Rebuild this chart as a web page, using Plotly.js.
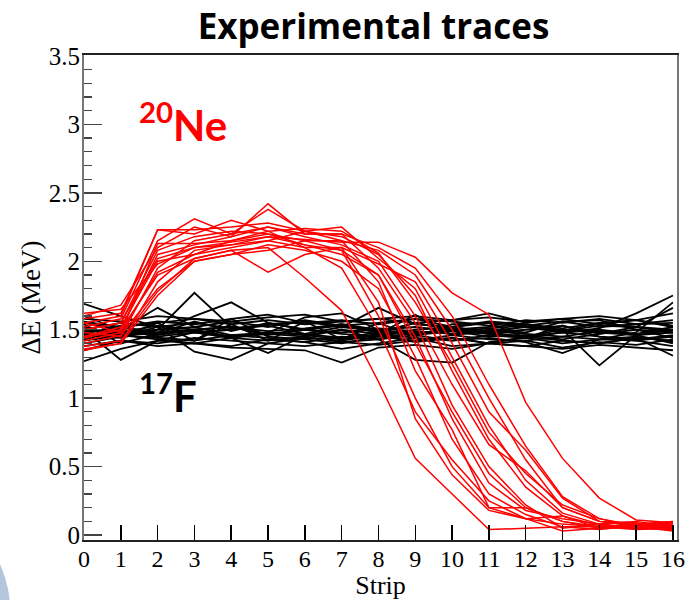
<!DOCTYPE html>
<html>
<head>
<meta charset="utf-8">
<script src="https://cdn.plot.ly/plotly-3.0.1.min.js"></script>
<style>html,body{margin:0;padding:0;background:#fff;}#chart{width:691px;height:600px;}</style>
</head>
<body>
<div id="chart"></div>
<script>
// Strip numbers (x)
const strips = [0,1,2,3,4,5,6,7,8,9,10,11,12,13,14,15,16];

// 20Ne traces (red), ΔE in MeV per strip
const ne20_1  = [1.45,1.50,1.90,2.02,2.08,2.10,1.88,1.64,1.12,0.56,0.30,0.04,0.05,0.06,0.06,0.05,0.07];
const ne20_2  = [1.50,1.55,2.02,2.10,2.12,2.18,2.16,2.14,2.14,2.03,1.77,1.61,0.97,0.56,0.27,0.11,0.09];
const ne20_3  = [1.38,1.42,1.78,2.02,2.08,1.92,2.05,2.10,1.70,0.85,0.44,0.18,0.12,0.08,0.06,0.05,0.04];
const ne20_4  = [1.55,1.60,2.23,2.23,2.25,2.28,2.22,2.15,1.85,1.20,0.77,0.20,0.12,0.03,0.05,0.06,0.05];
const ne20_5  = [1.42,1.48,2.13,2.13,2.15,2.20,2.12,2.05,1.90,1.40,0.90,0.45,0.20,0.10,0.05,0.07,0.10];
const ne20_6  = [1.60,1.68,2.10,2.25,2.18,2.42,2.20,2.20,1.95,1.55,0.95,0.50,0.22,0.05,0.08,0.05,0.06];
const ne20_7  = [1.48,1.45,1.95,2.15,2.20,2.25,2.18,2.12,2.00,1.60,1.10,0.66,0.47,0.20,0.10,0.06,0.08];
const ne20_8  = [1.35,1.40,1.85,2.08,2.12,2.15,2.22,2.18,2.05,1.75,1.20,0.70,0.35,0.14,0.05,0.08,0.04];
const ne20_9  = [1.52,1.58,2.15,2.31,2.20,2.38,2.22,2.25,2.02,1.80,1.30,0.80,0.40,0.16,0.08,0.05,0.07];
const ne20_10 = [1.45,1.52,2.00,2.05,2.10,2.15,2.10,2.10,1.98,1.85,1.40,0.90,0.62,0.27,0.10,0.09,0.06];
const ne20_11 = [1.58,1.62,2.23,2.20,2.30,2.22,2.24,2.22,2.06,1.70,1.25,0.75,0.45,0.22,0.12,0.06,0.05];
const ne20_12 = [1.40,1.46,1.80,2.00,2.05,2.12,2.08,2.00,1.80,1.30,0.70,0.30,0.15,0.06,0.04,0.07,0.08];
const ne20_13 = [1.50,1.55,2.08,2.18,2.22,2.20,2.15,2.15,2.08,1.90,1.50,1.00,0.55,0.20,0.10,0.08,0.10];
const ne20_14 = [1.62,1.65,1.98,2.10,2.14,2.18,2.12,2.08,1.60,1.00,0.50,0.20,0.20,0.10,0.06,0.04,0.05];
const ne20_15 = [1.44,1.50,2.05,2.12,2.18,2.25,2.20,2.20,2.10,1.95,1.60,1.10,0.65,0.28,0.12,0.07,0.09];
const ne20_16 = [1.55,1.48,1.92,2.05,2.15,2.22,2.10,1.95,1.50,0.90,0.55,0.25,0.12,0.14,0.07,0.06,0.03];
const ne20_17 = [1.36,1.40,1.75,2.00,2.05,2.08,2.15,2.08,1.90,1.45,0.85,0.38,0.18,0.12,0.08,0.10,0.06];

// 17F traces (black)
const f17_1  = [1.69,1.60,1.52,1.48,1.50,1.53,1.47,1.52,1.49,1.46,1.52,1.48,1.50,1.53,1.47,1.52,1.50];
const f17_2  = [1.27,1.36,1.42,1.40,1.38,1.43,1.41,1.36,1.40,1.44,1.38,1.40,1.42,1.37,1.41,1.39,1.43];
const f17_3  = [1.50,1.28,1.42,1.48,1.44,1.47,1.45,1.50,1.43,1.48,1.49,1.45,1.46,1.43,1.47,1.50,1.44];
const f17_4  = [1.55,1.50,1.66,1.52,1.56,1.52,1.57,1.53,1.55,1.58,1.52,1.56,1.54,1.51,1.55,1.57,1.52];
const f17_5  = [1.45,1.48,1.50,1.77,1.52,1.46,1.50,1.47,1.45,1.50,1.52,1.48,1.45,1.50,1.48,1.46,1.50];
const f17_6  = [1.52,1.46,1.48,1.60,1.70,1.55,1.50,1.53,1.48,1.55,1.50,1.52,1.54,1.49,1.53,1.52,1.48];
const f17_7  = [1.40,1.45,1.52,1.34,1.28,1.40,1.44,1.42,1.46,1.41,1.44,1.40,1.45,1.42,1.40,1.44,1.42];
const f17_8  = [1.48,1.52,1.56,1.54,1.58,1.61,1.55,1.57,1.54,1.58,1.56,1.53,1.57,1.55,1.58,1.54,1.57];
const f17_9  = [1.60,1.50,1.45,1.48,1.44,1.33,1.46,1.43,1.47,1.44,1.42,1.46,1.44,1.48,1.45,1.43,1.46];
const f17_10 = [1.46,1.44,1.50,1.52,1.46,1.48,1.59,1.62,1.50,1.47,1.51,1.49,1.52,1.48,1.50,1.47,1.52];
const f17_11 = [1.35,1.42,1.38,1.40,1.37,1.36,1.35,1.26,1.37,1.39,1.36,1.40,1.38,1.36,1.39,1.37,1.35];
const f17_12 = [1.50,1.55,1.52,1.55,1.51,1.54,1.56,1.52,1.66,1.54,1.52,1.55,1.53,1.56,1.52,1.54,1.55];
const f17_13 = [1.44,1.48,1.46,1.50,1.45,1.48,1.46,1.50,1.47,1.61,1.46,1.49,1.47,1.45,1.49,1.46,1.48];
const f17_14 = [1.52,1.46,1.43,1.40,1.44,1.42,1.45,1.41,1.43,1.28,1.26,1.41,1.44,1.40,1.43,1.42,1.45];
const f17_15 = [1.48,1.52,1.55,1.58,1.54,1.57,1.54,1.56,1.58,1.55,1.57,1.62,1.55,1.58,1.54,1.57,1.53];
const f17_16 = [1.56,1.52,1.48,1.50,1.52,1.47,1.50,1.48,1.51,1.49,1.47,1.50,1.48,1.56,1.57,1.50,1.48];
const f17_17 = [1.42,1.46,1.44,1.42,1.46,1.44,1.41,1.45,1.43,1.46,1.42,1.44,1.41,1.33,1.43,1.45,1.41];
const f17_18 = [1.50,1.48,1.53,1.50,1.52,1.49,1.51,1.54,1.50,1.52,1.49,1.51,1.53,1.50,1.24,1.46,1.40];
const f17_19 = [1.46,1.50,1.47,1.49,1.45,1.48,1.47,1.44,1.48,1.46,1.49,1.47,1.45,1.48,1.51,1.62,1.75];
const f17_20 = [1.38,1.42,1.40,1.44,1.42,1.40,1.38,1.41,1.39,1.42,1.44,1.40,1.38,1.42,1.40,1.44,1.31];
const f17_21 = [1.58,1.56,1.60,1.58,1.56,1.59,1.61,1.56,1.58,1.60,1.57,1.59,1.56,1.58,1.60,1.57,1.62];
const f17_22 = [1.43,1.45,1.55,1.42,1.58,1.45,1.43,1.40,1.45,1.42,1.46,1.43,1.42,1.45,1.43,1.48,1.70];
const f17_23 = [1.54,1.40,1.47,1.56,1.49,1.55,1.50,1.54,1.48,1.55,1.50,1.47,1.53,1.49,1.55,1.52,1.66];
const f17_24 = [1.47,1.53,1.44,1.42,1.54,1.42,1.56,1.43,1.55,1.45,1.54,1.55,1.44,1.53,1.45,1.42,1.38];

const ne20Series = [ne20_1,ne20_2,ne20_3,ne20_4,ne20_5,ne20_6,ne20_7,ne20_8,ne20_9,ne20_10,ne20_11,ne20_12,ne20_13,ne20_14,ne20_15,ne20_16,ne20_17];
const f17Series = [f17_1,f17_2,f17_3,f17_4,f17_5,f17_6,f17_7,f17_8,f17_9,f17_10,f17_11,f17_12,f17_13,f17_14,f17_15,f17_16,f17_17,f17_18,f17_19,f17_20,f17_21,f17_22,f17_23,f17_24];

const traces = [];
f17Series.forEach(s => traces.push({x: strips, y: s, type: 'scatter', mode: 'lines', line: {color: '#000000', width: 1.8}, hoverinfo: 'skip', showlegend: false}));
ne20Series.forEach(s => traces.push({x: strips, y: s, type: 'scatter', mode: 'lines', line: {color: '#ff0000', width: 1.5}, hoverinfo: 'skip', showlegend: false}));

const layout = {
  width: 691, height: 600,
  margin: {l: 84, r: 14, t: 55, b: 60, pad: 0},
  paper_bgcolor: '#ffffff', plot_bgcolor: '#ffffff',
  showlegend: false,
  title: {text: '<b>Experimental traces</b>', font: {family: 'Open Sans, sans-serif', size: 35, color: '#000'}, x: 0.5405, xanchor: 'center', y: 0.955, yanchor: 'middle', xref: 'container', yref: 'container'},
  xaxis: {
    range: [0, 16.11], dtick: 1, tick0: 0, showgrid: false, zeroline: false,
    ticks: 'inside', ticklen: 15, tickwidth: 1.5, tickcolor: '#000',
    showline: true, linecolor: '#222', linewidth: 2, mirror: true,
    ticklabelstandoff: -4,
    tickfont: {family: 'Liberation Serif, serif', size: 24, color: '#000'},
    title: {text: 'Strip', font: {family: 'Liberation Serif, serif', size: 26, color: '#000'}, standoff: 2}
  },
  yaxis: {
    range: [-0.036, 3.507], dtick: 0.5, tick0: 0, showgrid: false, zeroline: false,
    ticks: 'inside', ticklen: 18, tickwidth: 1.5, tickcolor: '#444',
    minor: {dtick: 0.1, ticks: 'inside', ticklen: 8, tickwidth: 1.2, tickcolor: '#444', showgrid: false},
    showline: true, linecolor: '#777', linewidth: 2, mirror: true,
    ticklabelstandoff: -3,
    tickfont: {family: 'Liberation Serif, serif', size: 25, color: '#000'},
    title: {text: 'ΔE (MeV)', font: {family: 'Liberation Serif, serif', size: 27, color: '#000'}, standoff: 0}
  },
  annotations: [
    {text: '<b><sup>20</sup>Ne</b>', x: 1.44, y: 3.02, xref: 'x', yref: 'y', xanchor: 'left', yanchor: 'middle', showarrow: false, font: {family: 'Lato, sans-serif', size: 42, color: '#ff0000'}},
    {text: '<b><sup>17</sup>F</b>', x: 1.44, y: 1.04, xref: 'x', yref: 'y', xanchor: 'left', yanchor: 'middle', showarrow: false, font: {family: 'Lato, sans-serif', size: 42, color: '#000000'}}
  ],
  shapes: [
    {type: 'circle', xref: 'paper', yref: 'paper', x0: -0.4958, x1: -0.1248, y0: -0.371, y1: 0.0825, fillcolor: '#b4c6de', line: {width: 0}, layer: 'below'}
  ]
};

Plotly.newPlot('chart', traces, layout, {staticPlot: true, displayModeBar: false});
</script>
</body>
</html>
